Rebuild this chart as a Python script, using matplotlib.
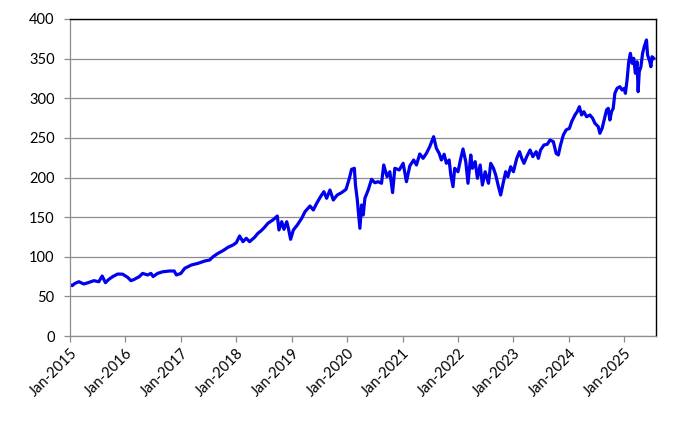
import numpy as np
import pandas as pd
import matplotlib
matplotlib.use("Agg")
import matplotlib.pyplot as plt
import matplotlib.dates as mdates

# values (decimal year, price)
years = [
    2015.00, 2015.04, 2015.08, 2015.16, 2015.25, 2015.34, 2015.43, 2015.52, 2015.58, 2015.64,
    2015.70, 2015.77, 2015.86, 2015.95, 2016.04, 2016.10, 2016.16, 2016.25, 2016.31, 2016.40,
    2016.46, 2016.50, 2016.58, 2016.67, 2016.79, 2016.88, 2016.92, 2017.00,
    2017.07, 2017.19, 2017.31, 2017.43, 2017.52, 2017.58, 2017.67, 2017.76, 2017.85, 2017.94,
    2018.00, 2018.06, 2018.12, 2018.18, 2018.24, 2018.33, 2018.39, 2018.45, 2018.51, 2018.57,
    2018.66, 2018.74, 2018.77, 2018.82, 2018.86, 2018.91, 2018.94, 2018.98, 2019.03, 2019.10,
    2019.18,
    2019.24, 2019.33, 2019.39, 2019.45, 2019.52, 2019.58, 2019.63, 2019.69, 2019.75, 2019.82,
    2019.90, 2019.98, 2020.04, 2020.08, 2020.13, 2020.15, 2020.18, 2020.23, 2020.26, 2020.29,
    2020.32, 2020.38, 2020.44, 2020.50, 2020.56, 2020.62, 2020.66, 2020.72, 2020.77, 2020.82,
    2020.86, 2020.94, 2021.01, 2021.07, 2021.13, 2021.20, 2021.25, 2021.31, 2021.37, 2021.43,
    2021.49,
    2021.56, 2021.61, 2021.66, 2021.70, 2021.75, 2021.79, 2021.84, 2021.87, 2021.91, 2021.94,
    2022.00, 2022.05, 2022.09, 2022.14, 2022.18, 2022.23, 2022.26, 2022.31, 2022.35, 2022.40,
    2022.44, 2022.49, 2022.55, 2022.59, 2022.64, 2022.68, 2022.73, 2022.77, 2022.82, 2022.86,
    2022.90, 2022.95, 2023.00, 2023.06, 2023.11, 2023.15, 2023.19, 2023.24, 2023.30, 2023.35,
    2023.41, 2023.45, 2023.49, 2023.55, 2023.61, 2023.66,
    2023.72, 2023.77, 2023.81, 2023.85, 2023.90, 2023.95, 2024.01, 2024.05, 2024.11, 2024.15,
    2024.19, 2024.23, 2024.27, 2024.32, 2024.38, 2024.43, 2024.47, 2024.53, 2024.56, 2024.60,
    2024.65, 2024.68, 2024.71, 2024.74, 2024.77, 2024.80, 2024.83, 2024.87, 2024.92, 2024.96,
    2025.00, 2025.02, 2025.05, 2025.08, 2025.11, 2025.14, 2025.17, 2025.20, 2025.23, 2025.25,
    2025.27, 2025.30, 2025.33, 2025.36, 2025.40, 2025.42, 2025.46, 2025.48, 2025.50, 2025.53,
]
prices = [
    65.0, 63.5, 66.0, 68.5, 65.6, 67.6, 69.8, 68.5, 75.7, 67.3,
    71.5, 74.9, 78.2, 78.0, 74.0, 69.8, 71.5, 74.9, 79.0, 77.0,
    79.0, 75.0, 79.0, 81.0, 82.0, 82.0, 77.0, 79.0,
    85.4, 89.6, 91.7, 94.6, 95.9, 100.0, 104.3, 107.7, 111.9, 114.8,
    117.7, 126.2, 119.0, 123.3, 119.0, 124.5, 129.6, 132.9, 137.2, 142.2,
    146.4, 151.4, 133.8, 144.2, 134.6, 144.2, 135.9, 122.0, 133.8, 140.0,
    148.5,
    156.9, 164.0, 159.0, 167.4, 175.8, 182.1, 173.8, 184.2, 171.6, 177.9,
    180.9, 185.1, 199.0, 210.3, 211.6, 190.5, 173.8, 135.9, 165.3, 152.7,
    173.8, 184.2, 197.7, 193.4, 194.7, 192.7, 215.8, 201.0, 207.3, 180.9,
    211.6, 209.5, 217.9, 194.7, 214.5, 222.1, 215.8, 229.7, 224.2, 230.5,
    238.9,
    251.5, 236.8, 230.5, 222.1, 229.3, 217.9, 222.1, 203.2, 188.4, 211.6,
    207.3, 224.2, 236.0, 220.0, 192.7, 228.4, 211.6, 220.0, 199.0, 215.8,
    190.5, 207.3, 192.7, 217.9, 211.6, 203.2, 188.4, 177.9, 194.7, 207.3,
    201.0, 213.6, 207.3, 224.2, 232.6, 224.2, 217.9, 226.3, 234.7, 226.3,
    232.6, 224.2, 234.7, 241.0, 241.9, 247.3,
    245.2, 230.5, 228.4, 241.0, 253.6, 260.0, 262.0, 270.4, 278.9, 283.0,
    289.3, 278.9, 283.0, 276.7, 278.9, 274.6, 268.4, 264.1, 255.8, 262.0,
    276.7, 285.2, 287.3, 272.6, 283.0, 287.3, 306.2, 312.5, 314.6, 310.4,
    312.5, 306.2, 323.0, 346.1, 356.7, 344.1, 350.4, 331.5, 346.1, 308.3,
    333.5, 339.8, 356.7, 365.1, 373.5, 354.6, 346.1, 339.8, 352.4, 350.4,
]
y_ticks = [0, 50, 100, 150, 200, 250, 300, 350, 400]


def to_date(y):
    y = np.asarray(y)
    return pd.Timestamp("2015-01-01") + pd.to_timedelta((y - 2015.0) * 365.25, unit="D")


dates = to_date(years)

plt.rcParams['font.family'] = ['Lato', 'DejaVu Sans']

fig = plt.figure(figsize=(6.78, 4.26), dpi=100)
ax = fig.add_axes([70 / 678, 1 - 336 / 426, 586 / 678, 317 / 426])

ax.plot(dates, prices, color='#0000ee', lw=2.3, solid_joinstyle='round')

ax.set_ylim(0, 400)
ax.set_yticks(y_ticks)
ax.set_xlim(pd.Timestamp("2015-01-01"), to_date(2025.572))
ax.xaxis.set_major_locator(mdates.YearLocator(1, month=1, day=1))
ax.xaxis.set_major_formatter(mdates.DateFormatter('%b-%Y'))

ax.grid(axis='y', color='#8c8c8c', lw=0.9)
ax.set_axisbelow(True)

for side in ['left', 'bottom']:
    ax.spines[side].set_color('#8c8c8c')
    ax.spines[side].set_linewidth(0.9)
for side in ['top', 'right']:
    ax.spines[side].set_color('black')
    ax.spines[side].set_linewidth(1.0)

ax.tick_params(axis='both', color='#8c8c8c', length=4, width=0.9, labelsize=10.5,
               labelcolor='black')
ax.tick_params(axis='y', pad=7)
for lab in ax.get_xticklabels():
    lab.set_rotation(45)
    lab.set_ha('right')
    lab.set_rotation_mode('anchor')

plt.savefig("out.png", dpi=100)
